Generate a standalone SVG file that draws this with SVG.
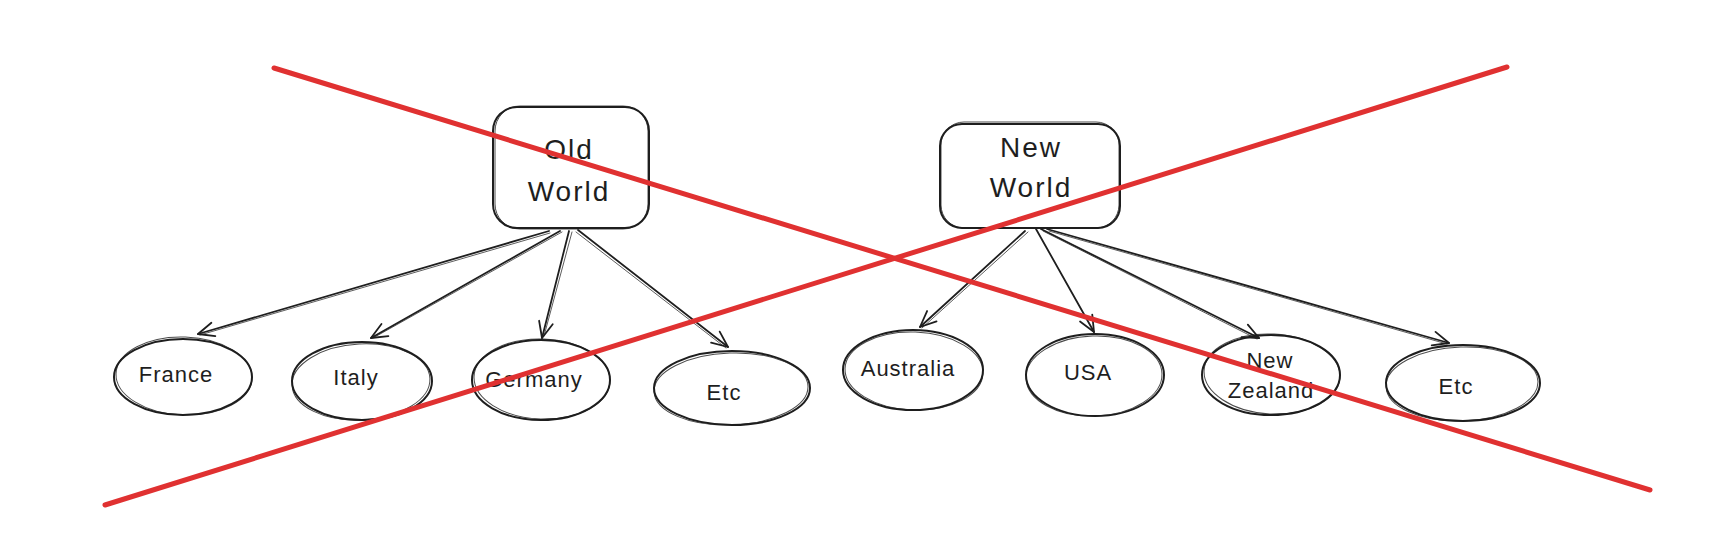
<svg xmlns="http://www.w3.org/2000/svg" width="1732" height="554" viewBox="0 0 1732 554">
<style>
.bg{fill:#ffffff}
.shape{fill:none;stroke:#1e1e1e;stroke-width:2}
.sketch{fill:none;stroke:#1e1e1e;stroke-width:1;opacity:0.8}
.edge{fill:none;stroke:#1e1e1e;stroke-width:1.8;stroke-linecap:round}
.edge2{fill:none;stroke:#1e1e1e;stroke-width:0.9;stroke-linecap:round;opacity:0.8}
.head{fill:none;stroke:#1e1e1e;stroke-width:1.8;stroke-linecap:round;stroke-linejoin:round}
.big{font-family:"Liberation Sans",Arial,sans-serif;font-size:28px;letter-spacing:2px;fill:#1e1e1e;text-anchor:middle}
.small{font-family:"Liberation Sans",Arial,sans-serif;font-size:22px;letter-spacing:1px;fill:#1e1e1e;text-anchor:middle}
.cross{fill:none;stroke:#e03131;stroke-width:5;stroke-linecap:round}
</style>
<defs>
<marker id="arrow" viewBox="0 0 20 20" refX="18" refY="10" markerWidth="20" markerHeight="20" markerUnits="userSpaceOnUse" orient="auto">
<path class="head" d="M2,3 L18,10 L2,17"/>
</marker>
</defs>
<rect class="bg" x="0" y="0" width="1732" height="554"/>

<g id="old-world">
<rect class="shape" x="493" y="107" width="156" height="121" rx="24"/>
<rect class="sketch" x="495" y="106" width="153" height="123" rx="25"/>
<text class="big" x="569" y="159">Old</text>
<text class="big" x="569" y="201">World</text>
</g>

<g id="new-world">
<rect class="shape" x="940" y="124" width="180" height="104" rx="22"/>
<rect class="sketch" x="941" y="122" width="178" height="106" rx="23"/>
<text class="big" x="1031" y="157">New</text>
<text class="big" x="1031" y="197">World</text>
</g>

<g id="france">
<ellipse class="shape" cx="183" cy="377" rx="69" ry="38"/>
<ellipse class="sketch" cx="184" cy="376" rx="68" ry="39" transform="rotate(2 184 376)"/>
<text class="small" x="176" y="382">France</text>
</g>

<g id="italy">
<ellipse class="shape" cx="362" cy="381" rx="70" ry="39"/>
<ellipse class="sketch" cx="361" cy="382" rx="69" ry="38" transform="rotate(-3 361 382)"/>
<text class="small" x="356" y="385">Italy</text>
</g>

<g id="germany">
<ellipse class="shape" cx="541" cy="380" rx="69" ry="40"/>
<ellipse class="sketch" cx="542" cy="379" rx="68" ry="40" transform="rotate(2 542 379)"/>
<text class="small" x="534" y="387">Germany</text>
</g>

<g id="etc-old">
<ellipse class="shape" cx="732" cy="388" rx="78" ry="37"/>
<ellipse class="sketch" cx="731" cy="389" rx="77" ry="36" transform="rotate(-2 731 389)"/>
<text class="small" x="724" y="400">Etc</text>
</g>

<g id="australia">
<ellipse class="shape" cx="913" cy="370" rx="70" ry="40"/>
<ellipse class="sketch" cx="914" cy="371" rx="69" ry="39" transform="rotate(2 914 371)"/>
<text class="small" x="908" y="376">Australia</text>
</g>

<g id="usa">
<ellipse class="shape" cx="1095" cy="375" rx="69" ry="41"/>
<ellipse class="sketch" cx="1094" cy="376" rx="68" ry="40" transform="rotate(-2 1094 376)"/>
<text class="small" x="1088" y="380">USA</text>
</g>

<g id="new-zealand">
<ellipse class="shape" cx="1271" cy="375" rx="69" ry="40"/>
<ellipse class="sketch" cx="1272" cy="374" rx="68" ry="40" transform="rotate(3 1272 374)"/>
<text class="small" x="1270" y="368">New</text>
<text class="small" x="1271" y="398">Zealand</text>
</g>

<g id="etc-new">
<ellipse class="shape" cx="1463" cy="383" rx="77" ry="38"/>
<ellipse class="sketch" cx="1462" cy="384" rx="76" ry="37" transform="rotate(-2 1462 384)"/>
<text class="small" x="1456" y="394">Etc</text>
</g>

<g id="connectors">
<line class="edge" x1="549" y1="231" x2="198" y2="334" marker-end="url(#arrow)"/>
<line class="edge2" x1="550" y1="233" x2="200" y2="335"/>
<line class="edge" x1="560" y1="231" x2="371" y2="338" marker-end="url(#arrow)"/>
<line class="edge2" x1="562" y1="232" x2="373" y2="338"/>
<line class="edge" x1="569" y1="231" x2="542" y2="338" marker-end="url(#arrow)"/>
<line class="edge2" x1="572" y1="232" x2="544" y2="336"/>
<line class="edge" x1="578" y1="230" x2="728" y2="347" marker-end="url(#arrow)"/>
<line class="edge2" x1="576" y1="232" x2="726" y2="348"/>
<line class="edge" x1="1025" y1="231" x2="920" y2="327" marker-end="url(#arrow)"/>
<line class="edge2" x1="1028" y1="232" x2="922" y2="328"/>
<line class="edge" x1="1036" y1="229" x2="1094" y2="332" marker-end="url(#arrow)"/>
<line class="edge" x1="1041" y1="229" x2="1259" y2="338" marker-end="url(#arrow)"/>
<line class="edge2" x1="1043" y1="231" x2="1257" y2="339"/>
<line class="edge" x1="1047" y1="229" x2="1449" y2="343" marker-end="url(#arrow)"/>
<line class="edge2" x1="1049" y1="231" x2="1447" y2="344"/>
</g>

<g id="cross-out">
<line class="cross" x1="274" y1="68" x2="1650" y2="490"/>
<line class="cross" x1="105" y1="505" x2="1507" y2="67"/>
</g>
</svg>
